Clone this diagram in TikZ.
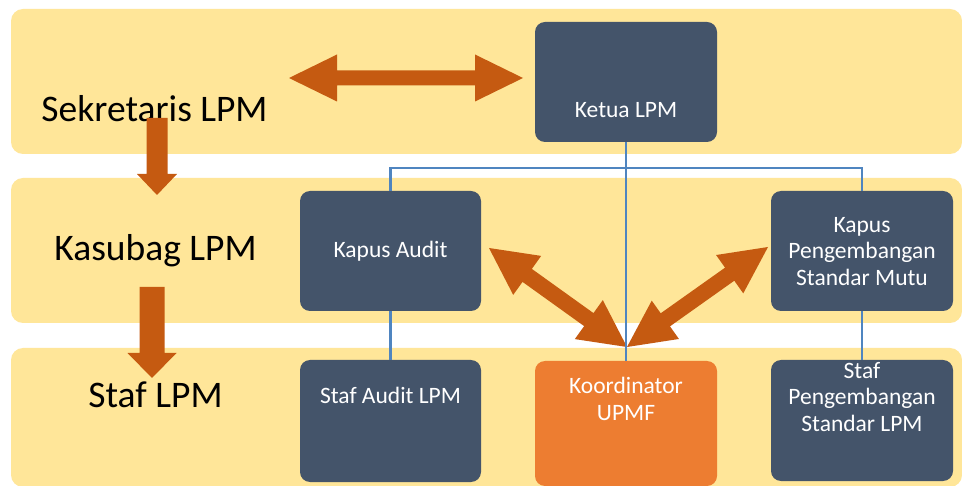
\documentclass[tikz,border=0pt]{standalone}
\usepackage{fontspec}
\setmainfont{Carlito}
\usetikzlibrary{calc}
\definecolor{bandfill}{HTML}{FFE699}
\definecolor{darkfill}{HTML}{44546A}
\definecolor{orangefill}{HTML}{ED7D31}
\definecolor{arrowc}{HTML}{C55A11}
\definecolor{linec}{HTML}{4F85C0}
% single block arrow: tail, tip, shaft half width, head half width, head length
\newcommand\myblockone[5]{%
  \coordinate (hh) at ($(#2)!#5!(#1)$);
  \fill[blockarrow] ($(#1)!#3!90:(#2)$) -- ($(hh)!#3!90:(#2)$) -- ($(hh)!#4!90:(#2)$)
    -- (#2) -- ($(hh)!#4!-90:(#2)$) -- ($(hh)!#3!-90:(#2)$) -- ($(#1)!#3!-90:(#2)$) -- cycle;}
% double block arrow
\newcommand\myblocktwo[5]{%
  \coordinate (ha) at ($(#1)!#5!(#2)$);
  \coordinate (hb) at ($(#2)!#5!(#1)$);
  \fill[blockarrow] (#1) -- ($(ha)!#4!90:(#2)$) -- ($(ha)!#3!90:(#2)$) -- ($(hb)!#3!90:(#2)$)
    -- ($(hb)!#4!90:(#2)$) -- (#2) -- ($(hb)!#4!-90:(#2)$) -- ($(hb)!#3!-90:(#2)$)
    -- ($(ha)!#3!-90:(#2)$) -- ($(ha)!#4!-90:(#2)$) -- cycle;}
\begin{document}
\begin{tikzpicture}[x=1pt,y=-1pt,
  band/.style={fill=bandfill, rounded corners=12pt},
  bandtext/.style={font=\fontsize{37.5}{41}\selectfont, text=black, anchor=base, inner sep=0pt},
  unitbox/.style={rounded corners=10pt, fill=darkfill, minimum width=181pt, minimum height=120pt, inner sep=0pt},
  boxtext/.style={text=white, font=\fontsize{23.5}{26.5}\selectfont, align=center, inner sep=0pt},
  link/.style={draw=linec, line width=2.2pt},
  blockarrow/.style={fill=arrowc}]
\useasboundingbox (0,0) rectangle (962,486);
\fill[white] (0,0) rectangle (962,486);
% bands
\path[band] (11,9) rectangle (962,154);
\path[band] (11,178) rectangle (962,323);
\path[band] (11,348) rectangle (962,487);
% band labels
\node[bandtext] (sek) at (154.5,122) {Sekretaris LPM};
\node[bandtext] (kas) at (155.5,261) {Kasubag LPM};
\node[bandtext] (staf) at (155.5,408) {Staf LPM};
% boxes
\node[unitbox, minimum width=182pt] (ketua) at (626,82) {};
\node[unitbox] (kaudit) at (390.5,251) {};
\node[unitbox, minimum width=182pt] (kpsm) at (862,251) {};
\node[unitbox, minimum height=122pt] (saudit) at (390.5,421) {};
\node[unitbox, minimum width=182pt, minimum height=125pt, fill=orangefill] (koord) at (626,423.5) {};
\node[unitbox, minimum width=182pt, minimum height=121pt] (spsm) at (862,420.5) {};
% box texts
\node[boxtext] (tketua) at (626,110.5) {Ketua LPM};
\node[boxtext, anchor=base] (tkaudit) at (390.5,258) {Kapus Audit};
\node[boxtext] (tkpsm) at (862,251.5) {Kapus\\Pengembangan\\Standar Mutu};
\node[boxtext, anchor=base] (tsaudit) at (390.5,404) {Staf Audit LPM};
\node[boxtext] (tkoord) at (626,399) {Koordinator\\UPMF};
\node[boxtext] (tspsm) at (862,397) {Staf\\Pengembangan\\Standar LPM};
% arrow end points
\coordinate (hl) at (289,78);
\coordinate (hr) at (523,78);
\coordinate (d1a) at (157,118);
\coordinate (d1b) at (157,195);
\coordinate (d2a) at (152,287);
\coordinate (d2b) at (152,378);
\coordinate (dl) at (489,248);
\coordinate (meet) at (627,347);
\coordinate (dr) at (768,247);
% block arrows
\myblocktwo{hl}{hr}{7.5pt}{23.5pt}{48pt}
\myblockone{d1a}{d1b}{10.5pt}{20pt}{21pt}
\myblockone{d2a}{d2b}{12.5pt}{24.5pt}{25pt}
\myblocktwo{dl}{meet}{8pt}{24pt}{47pt}
\myblocktwo{meet}{dr}{8pt}{23.5pt}{47pt}
% connectors
\draw[link] (ketua.south) -- (koord.north);
\draw[link] (kaudit.north) |- ($(ketua.south)+(0,26)$) -| (kpsm.north);
\draw[link] (kaudit.south) -- (saudit.north);
\draw[link] (kpsm.south) -- (spsm.north);
\end{tikzpicture}
\end{document}
